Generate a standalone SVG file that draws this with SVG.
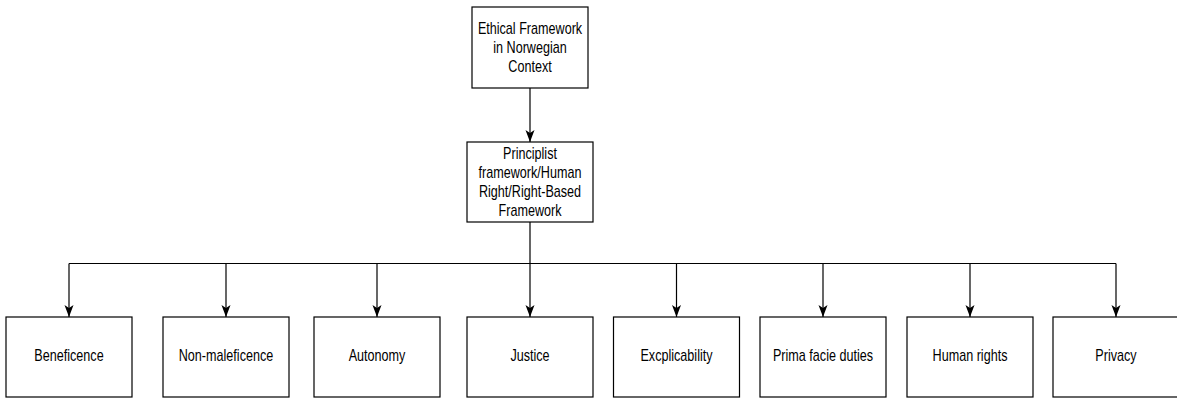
<svg xmlns="http://www.w3.org/2000/svg" width="1177" height="399" viewBox="0 0 1177 399">
<style>
.box{fill:#fff;stroke:#000;stroke-width:1.2}
.lbl{font-family:"Liberation Sans",Arial,sans-serif;font-size:12px;fill:#000;text-anchor:middle}
.con{fill:none;stroke:#000;stroke-width:1.2}
</style>
<defs>
<marker id="arr" markerUnits="userSpaceOnUse" markerWidth="14" markerHeight="12" viewBox="-13 -6 14 12" refX="0" refY="0" orient="auto">
<path d="M0,0 L-12,-4.5 L-9,0 L-12,4.5 Z" fill="#000"/>
</marker>
</defs>
<rect width="1177" height="399" fill="#fff"/>
<g id="connectors">
<path class="con" d="M530,88 V142" marker-end="url(#arr)"/>
<path class="con" d="M530,222 V263.5 M69,263.5 H1116"/>
<path class="con" d="M69,263.5 V317" marker-end="url(#arr)"/>
<path class="con" d="M226,263.5 V317" marker-end="url(#arr)"/>
<path class="con" d="M377,263.5 V317" marker-end="url(#arr)"/>
<path class="con" d="M530,263.5 V317" marker-end="url(#arr)"/>
<path class="con" d="M676.5,263.5 V317" marker-end="url(#arr)"/>
<path class="con" d="M823,263.5 V317" marker-end="url(#arr)"/>
<path class="con" d="M970,263.5 V317" marker-end="url(#arr)"/>
<path class="con" d="M1116,263.5 V317" marker-end="url(#arr)"/>
</g>
<g id="n-root">
<rect class="box" x="472" y="7" width="116" height="81"/>
<g transform="translate(530,34) scale(1.05,1.35)">
<text class="lbl" x="0" y="0">Ethical Framework</text>
<text class="lbl" x="0" y="14.1">in Norwegian</text>
<text class="lbl" x="0" y="28.2">Context</text>
</g>
</g>
<g id="n-principlist">
<rect class="box" x="467" y="142" width="126" height="80"/>
<g transform="translate(530,159.3) scale(1.05,1.35)">
<text class="lbl" x="0" y="0">Principlist</text>
<text class="lbl" x="0" y="14.1">framework/Human</text>
<text class="lbl" x="0" y="28.2">Right/Right-Based</text>
<text class="lbl" x="0" y="42.3">Framework</text>
</g>
</g>
<g id="n-beneficence">
<rect class="box" x="6" y="317" width="126" height="80"/>
<text class="lbl" transform="translate(69,361) scale(1.05,1.35)">Beneficence</text>
</g>
<g id="n-nonmaleficence">
<rect class="box" x="163" y="317" width="126" height="80"/>
<text class="lbl" transform="translate(226,361) scale(1.05,1.35)">Non-maleficence</text>
</g>
<g id="n-autonomy">
<rect class="box" x="314" y="317" width="126" height="80"/>
<text class="lbl" transform="translate(377,361) scale(1.05,1.35)">Autonomy</text>
</g>
<g id="n-justice">
<rect class="box" x="467" y="317" width="126" height="80"/>
<text class="lbl" transform="translate(530,361) scale(1.05,1.35)">Justice</text>
</g>
<g id="n-excplicability">
<rect class="box" x="613.5" y="317" width="126" height="80"/>
<text class="lbl" transform="translate(676.5,361) scale(1.05,1.35)">Excplicability</text>
</g>
<g id="n-prima">
<rect class="box" x="760" y="317" width="126" height="80"/>
<text class="lbl" transform="translate(823,361) scale(1.05,1.35)">Prima facie duties</text>
</g>
<g id="n-humanrights">
<rect class="box" x="907" y="317" width="126" height="80"/>
<text class="lbl" transform="translate(970,361) scale(1.05,1.35)">Human rights</text>
</g>
<g id="n-privacy">
<rect class="box" x="1053" y="317" width="126" height="80"/>
<text class="lbl" transform="translate(1116,361) scale(1.05,1.35)">Privacy</text>
</g>
</svg>
